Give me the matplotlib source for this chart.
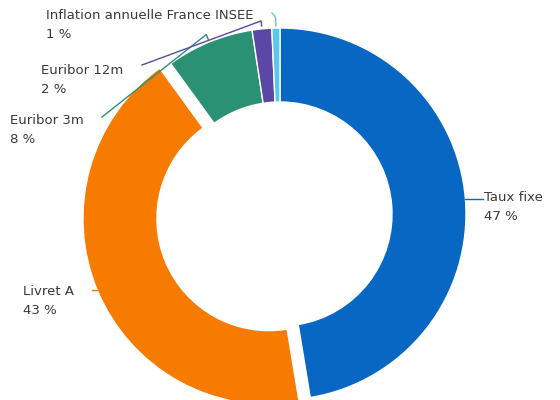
import numpy as np
import matplotlib
matplotlib.use("Agg")
import matplotlib.pyplot as plt

# Data
labels = ["Taux fixe", "Livret A", "Euribor 3m", "Euribor 12m", "Inflation annuelle France INSEE"]
values = [47.4, 42.6, 7.6, 1.7, 0.7]
pct_labels = ["47 %", "43 %", "8 %", "2 %", "1 %"]
colors = ["#0867C2", "#F77B00", "#2A9175", "#5A47A6", "#5AC8EE"]
explode = [0, 12, 0, 0, 0]

W, H = 560, 400
fig = plt.figure(figsize=(W / 100, H / 100), dpi=100)
ax = fig.add_axes([0, 0, 1, 1])

cx, cy = 280, H - 214
R = 186
ring = 74

wedges, _ = ax.pie(values, radius=R, center=(cx, cy), startangle=90, counterclock=False,
                   explode=explode, colors=colors,
                   wedgeprops=dict(width=ring, edgecolor="white", linewidth=1.0))
ax.set_xlim(0, W)
ax.set_ylim(0, H)
ax.set_aspect("equal")
ax.axis("off")

# label layout (text block centers, image coords -> data coords)
text_pos = [(484, 207), (23, 301), (10, 130), (41, 80), (46, 25)]
# leader endpoints near text (image coords)
line_end = [(483, None), (92, None), (102, 117), (142, 65), (272, 13)]

tc = "#3A3A3A"
for i, w in enumerate(wedges):
    th = np.deg2rad((w.theta1 + w.theta2) / 2)
    wx, wy = w.center
    tx, ty = text_pos[i]
    ax.text(tx, H - ty, f"{labels[i]}\n{pct_labels[i]}", ha="left", va="center",
            fontsize=9.5, color=tc, linespacing=1.62, family="DejaVu Sans")
    if i in (0, 1):
        ax0 = wx + R * np.cos(th)
        ay0 = wy + R * np.sin(th)
        ex = line_end[i][0]
        ax.plot([ax0, ex], [ay0, ay0], color=colors[i], lw=1.0)
    elif i in (2, 3):
        r1 = R + 3
        r2 = R + 8
        x1, y1 = wx + r1 * np.cos(th), wy + r1 * np.sin(th)
        x2, y2 = wx + r2 * np.cos(th), wy + r2 * np.sin(th)
        ex, ey = line_end[i]
        ax.plot([x1, x2, ex], [y1, y2, H - ey], color=colors[i], lw=1.0)
    else:
        r1 = R + 2
        r2 = R + 10
        x1, y1 = wx + r1 * np.cos(th), wy + r1 * np.sin(th)
        x2, y2 = wx + r2 * np.cos(th), wy + r2 * np.sin(th)
        ex, ey = line_end[i]
        ax.plot([x1, x2, x2 - 1.5, ex], [y1, y2, H - ey - 2, H - ey], color=colors[i], lw=1.0)

fig.savefig("out.png", dpi=100, facecolor="white")
